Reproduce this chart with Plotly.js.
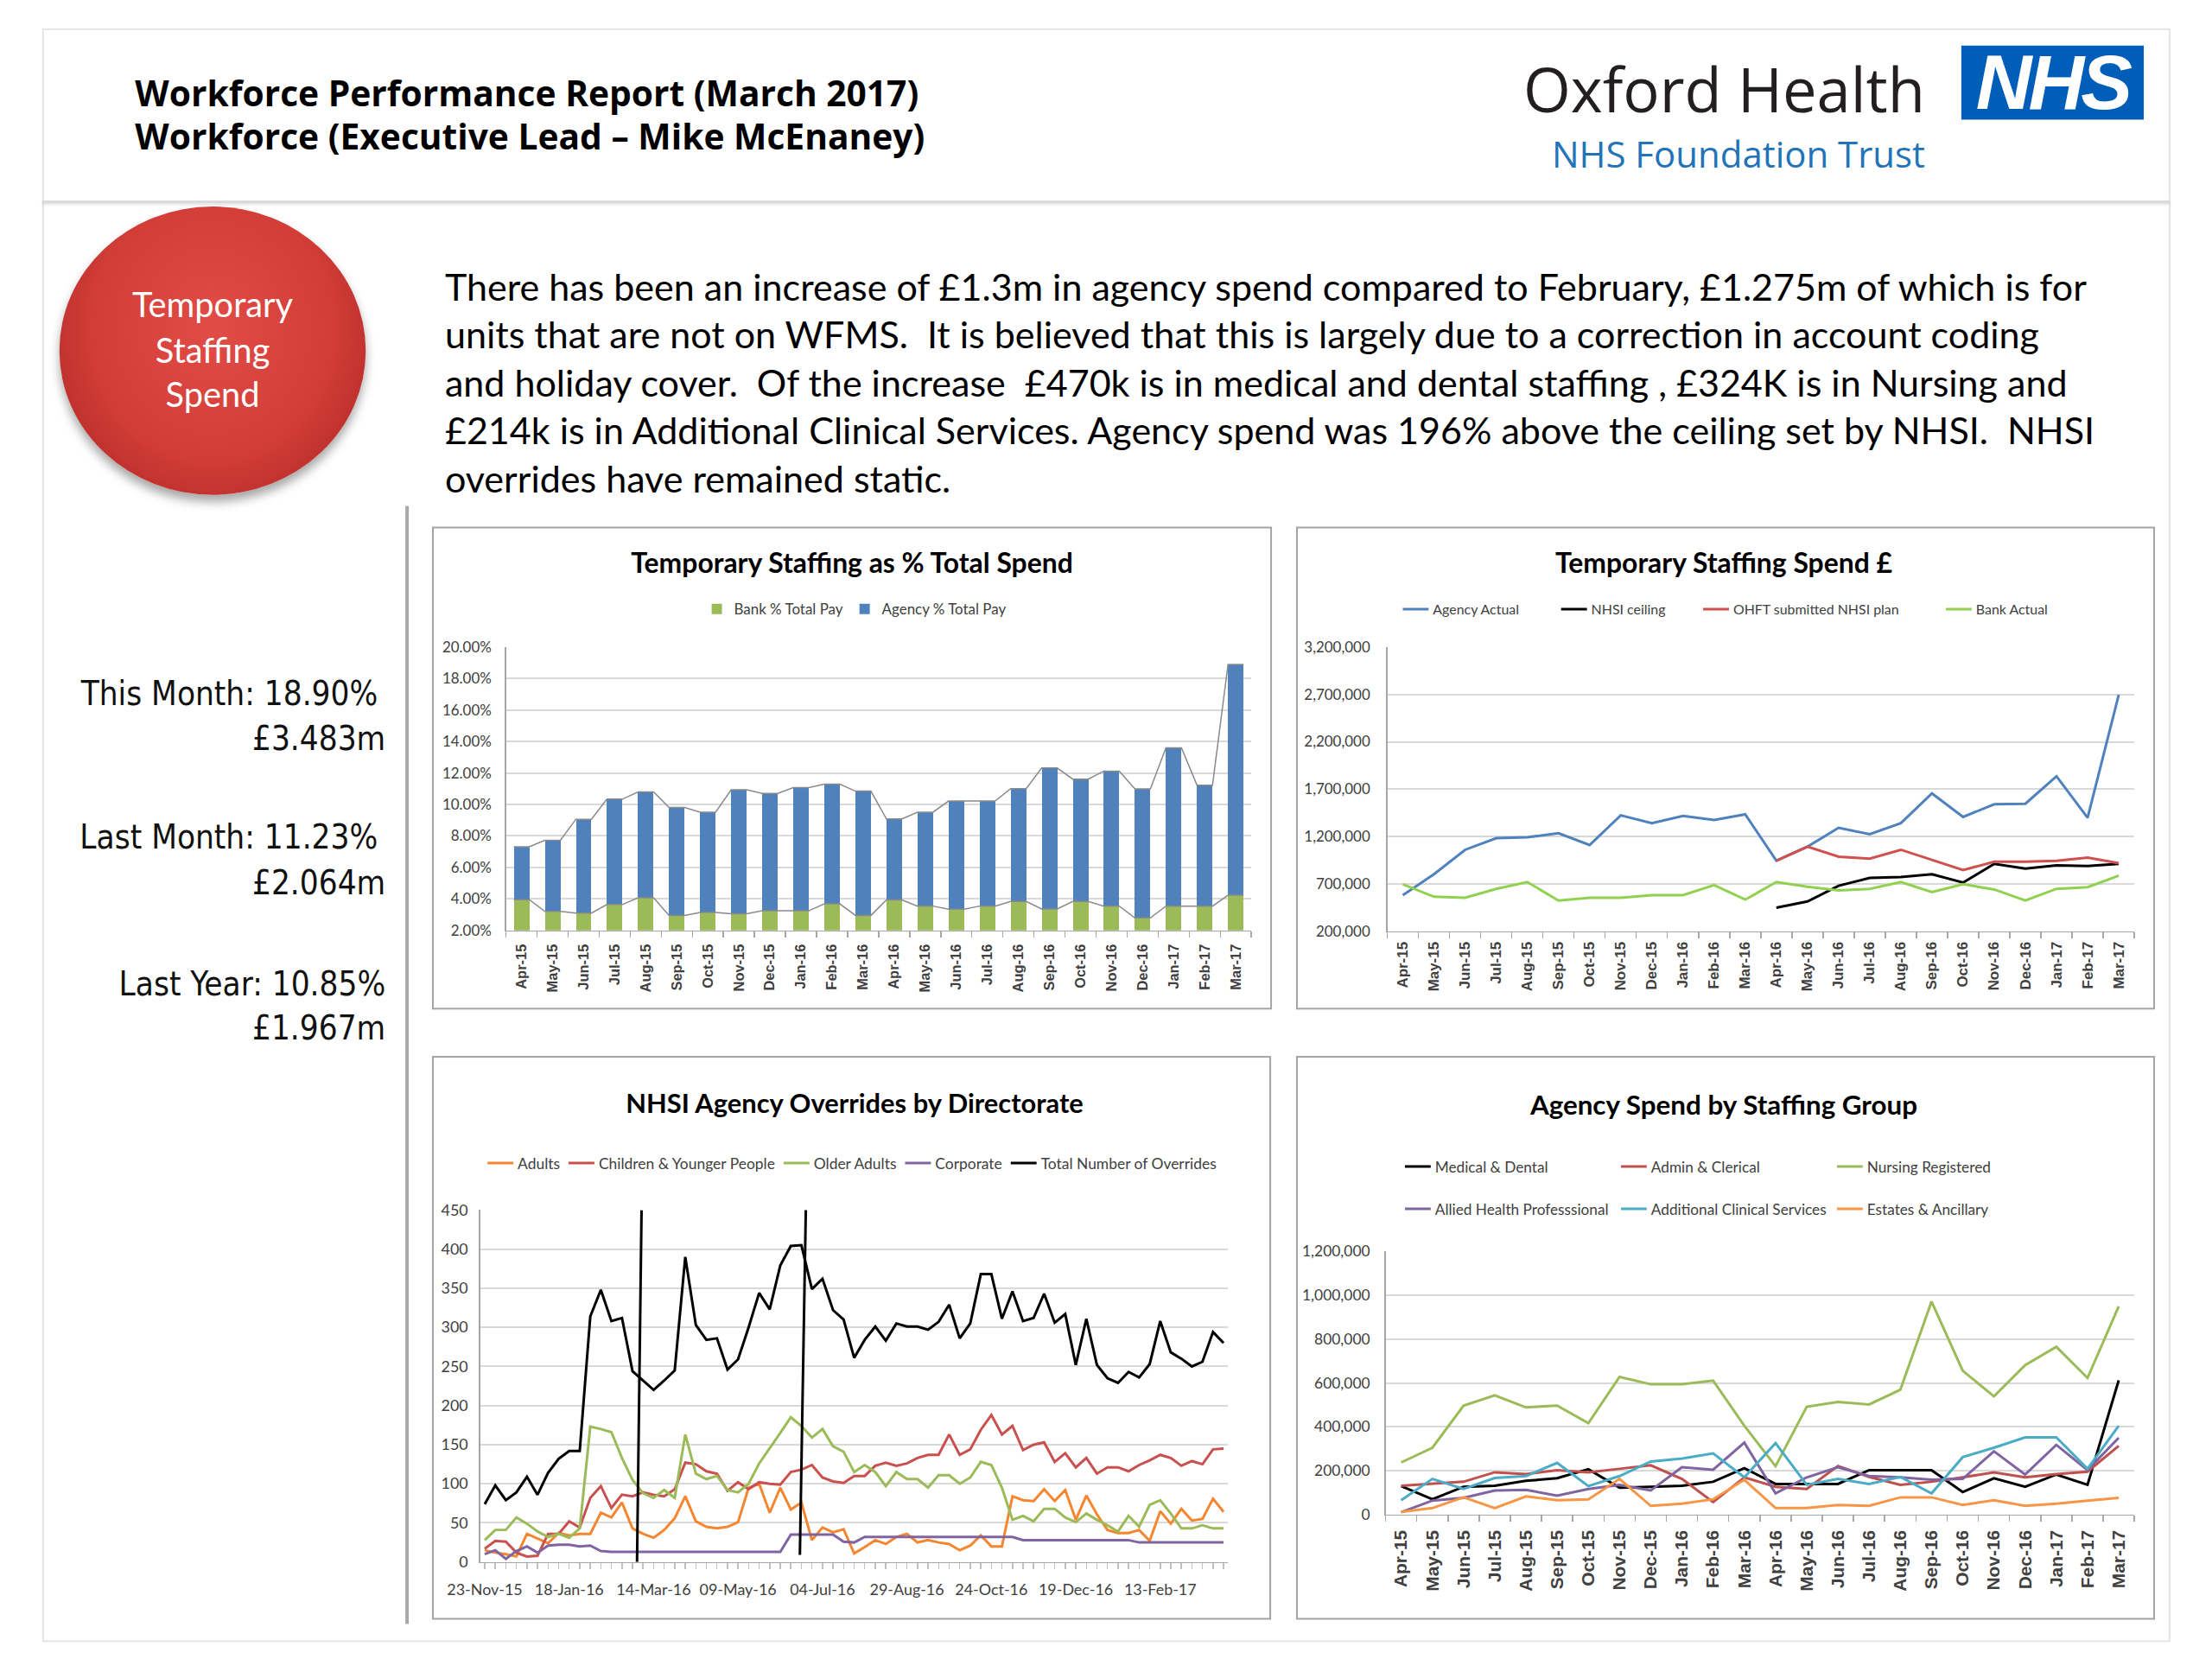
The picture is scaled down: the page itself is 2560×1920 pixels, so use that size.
<!DOCTYPE html>
<html><head><meta charset="utf-8">
<script src="https://cdn.plot.ly/plotly-3.0.1.min.js"></script>
<style>
html,body{margin:0;padding:0;background:#fff;}
#page{position:relative;width:2560px;height:1920px;overflow:hidden;background:#fff;font-family:Lato,"Open Sans",sans-serif;color:#000;transform-origin:0 0;}
.t{position:absolute;white-space:pre;line-height:60px;height:60px;}
.big{line-height:100px;height:100px;}
.frame{position:absolute;left:49px;top:33px;width:2473px;height:1875px;border:2px solid #e4e4e4;box-sizing:border-box;}
.sep{position:absolute;left:49px;top:233px;width:2473px;height:3px;background:#dadada;box-shadow:0 2px 3px rgba(0,0,0,0.12);}
.vline{position:absolute;left:471px;top:588px;width:4px;height:1299px;background:#a9a9a9;}
.chart{position:absolute;}
.box{position:absolute;border:2px solid #a3a3a3;box-sizing:border-box;pointer-events:none;}
.circle{position:absolute;left:69px;top:240px;width:356px;height:335px;border-radius:50%;
 background:radial-gradient(ellipse at 50% 42%, #e24c46 0%, #d23d38 55%, #b52b28 85%, #9c2220 100%);
 box-shadow:0 8px 12px rgba(0,0,0,0.35);}
.nhs{position:absolute;left:2279px;top:53px;width:212px;height:86px;background:#005EB8;}
.nhst{position:absolute;left:2279px;top:53px;width:212px;height:86px;color:#fff;
 font-family:"Liberation Sans",Arial,sans-serif;font-weight:bold;font-style:italic;font-size:90px;line-height:86px;
 text-align:center;letter-spacing:-4px;}
.hdr{font-family:"Open Sans",sans-serif;font-weight:700;font-size:39px;}
.oxf{font-family:"Open Sans",sans-serif;font-weight:400;font-size:70px;color:#231f20;}
.ft{font-family:"Open Sans",sans-serif;font-weight:400;font-size:38px;color:#2273b8;}
.ctext{font-family:Lato,sans-serif;font-size:38px;color:#fff;text-align:center;width:356px;left:69px;}
.para{font-family:Lato,sans-serif;font-size:40px;color:#000;left:517px;}
.stat{font-family:"DejaVu Sans Condensed","DejaVu Sans",sans-serif;font-stretch:condensed;font-size:37px;color:#111;text-align:right;}
</style></head>
<body><div id="page">
<div class="frame"></div>
<div class="sep"></div>

<div class="t hdr" id="h1" style="left:157px;top:77px;">Workforce Performance Report (March 2017)</div>
<div class="t hdr" id="h2" style="left:157px;top:128px;">Workforce (Executive Lead – Mike McEnaney)</div>
<div class="t big oxf" id="oxf" style="left:1770px;top:54px;">Oxford Health</div>
<div class="nhs"></div>
<div class="nhst">NHS</div>
<div class="t ft" id="nft" style="right:323px;top:149px;">NHS Foundation Trust</div>

<div class="circle"></div>
<div class="t ctext" id="c_1" style="top:323px;">Temporary</div>
<div class="t ctext c_o" style="top:377px;">Staffing</div>
<div class="t ctext c_o" style="top:428px;">Spend</div>

<div class="t para" id="p1" style="top:302px;">There has been an increase of £1.3m in agency spend compared to February, £1.275m of which is for</div>
<div class="t para p_o" style="top:358px;">units that are not on WFMS.  It is believed that this is largely due to a correction in account coding</div>
<div class="t para p_o" style="top:414px;">and holiday cover.  Of the increase  £470k is in medical and dental staffing , £324K is in Nursing and</div>
<div class="t para p_o" style="top:469px;">£214k is in Additional Clinical Services. Agency spend was 196% above the ceiling set by NHSI.  NHSI</div>
<div class="t para p_o" style="top:525px;">overrides have remained static.</div>

<div class="vline"></div>
<div class="t stat" id="s1" style="right:2121px;top:776px;">This Month: 18.90%</div>
<div class="t stat s_o" style="right:2112px;top:828px;">£3.483m</div>
<div class="t stat s_o" style="right:2121px;top:943px;">Last Month: 11.23%</div>
<div class="t stat s_o" style="right:2112px;top:996px;">£2.064m</div>
<div class="t stat s_o" style="right:2112px;top:1114px;">Last Year: 10.85%</div>
<div class="t stat s_o" style="right:2112px;top:1165px;">£1.967m</div>

<div class="chart" id="c1" style="left:502px;top:612px;width:976px;height:561px;"></div>
<div class="box" style="left:502px;top:612px;width:976px;height:561px;"></div>
<div class="chart" id="c2" style="left:1506px;top:612px;width:998px;height:561px;"></div>
<div class="box" style="left:1506px;top:612px;width:998px;height:561px;"></div>
<div class="chart" id="c3" style="left:502px;top:1227px;width:975px;height:655px;"></div>
<div class="box" style="left:502px;top:1227px;width:975px;height:655px;"></div>
<div class="chart" id="c4" style="left:1506px;top:1227px;width:998px;height:655px;"></div>
<div class="box" style="left:1506px;top:1227px;width:998px;height:655px;"></div>
</div>

<script>
// ---------- DATA ----------
const months = ['Apr-15','May-15','Jun-15','Jul-15','Aug-15','Sep-15','Oct-15','Nov-15','Dec-15','Jan-16','Feb-16','Mar-16',
                'Apr-16','May-16','Jun-16','Jul-16','Aug-16','Sep-16','Oct-16','Nov-16','Dec-16','Jan-17','Feb-17','Mar-17'];

// Chart 1: Temporary Staffing as % Total Spend (percent)
const bankPctTotalPay   = [3.95,3.20,3.10,3.64,4.07,2.95,3.14,3.05,3.24,3.24,3.68,2.95,3.93,3.54,3.34,3.54,3.83,3.36,3.83,3.54,2.79,3.54,3.54,4.23];
const agencyPctTotalPay = [3.36,4.52,5.96,6.70,6.73,6.86,6.37,7.88,7.46,7.83,7.61,7.90,5.15,5.97,6.88,6.68,7.18,8.96,7.78,8.58,8.20,10.06,7.69,14.67];

// Chart 2: Temporary Staffing Spend £
const agencyActual = [580000,802000,1060000,1182000,1192000,1235000,1110000,1424000,1341000,1417000,1374000,1434000,
                      944000,1093000,1292000,1225000,1341000,1655000,1407000,1540000,1546000,1837000,1399000,2697000];
const nhsiCeiling  = [null,null,null,null,null,null,null,null,null,null,null,null,
                      448000,514000,680000,762000,772000,802000,713000,911000,862000,895000,888000,911000];
const ohftPlan     = [null,null,null,null,null,null,null,null,null,null,null,null,
                      944000,1093000,987000,967000,1060000,954000,845000,934000,934000,944000,977000,918000];
const bankActual   = [696000,564000,554000,647000,719000,524000,554000,554000,580000,580000,686000,533000,
                      719000,670000,630000,647000,719000,613000,696000,640000,524000,647000,665000,786000];

// Chart 3: NHSI Agency Overrides by Directorate (weekly from 23-Nov-15)
const overrideFirstWeek = '2015-11-23';
const adults = [15,12,10,7,36,30,24,37,34,36, 36,63,57,76,43,36,31,41,56,84, 52,45,43,45,51,95,100,63,95,67,
                76,28,44,38,42,11,19,28,23,32, 36,25,28,25,23,15,21,34,20,20, 84,79,78,93,78,92,54,85,61,41,
                37,37,41,27,65,49,68,53,55,81, 64];
const childrenYoungerPeople = [17,27,26,12,7,8,36,36,52,44, 82,97,69,86,84,89,86,84,93,127, 125,116,113,91,102,93,102,100,99,115,
                118,124,108,103,101,110,110,123,127,123, 126,133,137,137,163,137,144,169,188,163, 174,143,150,153,128,139,121,133,113,121,
                121,116,124,130,137,133,123,129,125,144, 145];
const olderAdults = [28,41,41,57,49,39,32,36,31,43, 173,170,166,133,105,88,82,92,82,163, 113,106,110,92,89,100,126,145,165,185,
                174,159,170,148,141,115,124,115,97,115, 106,106,95,111,111,100,108,128,124,95, 54,59,52,68,68,57,51,62,54,47,
                39,59,45,73,79,62,43,43,47,43, 43];
const corporate = [10,15,4,14,20,12,21,22,22,20, 21,14,13,13,13,13,13,13,13,13, 13,13,13,13,13,13,13,13,13,35,
                35,35,35,35,26,25,32,32,32,32, 32,32,32,32,32,32,32,32,32,32, 32,28,28,28,28,28,28,28,28,28,
                28,28,25,25,25,25,25,25,25,25, 25];
const totalOverrides = [74,98,79,89,109,86,114,132,142,142, 314,348,308,312,244,232,220,232,245,390, 303,284,286,246,259,300,344,323,379,404,
                405,349,362,322,310,261,284,301,283,305, 301,301,297,307,329,286,305,368,368,311, 346,308,312,343,306,317,252,311,252,235,
                229,243,236,253,308,268,260,250,256,294, 280];
const overrideMarkerDates = [['2016-03-03','2016-03-06',0,450],['2016-06-19','2016-06-23',9,456]];

// Chart 4: Agency Spend by Staffing Group
const medicalDental      = [130000,70000,127000,132000,154000,166000,207000,123000,127000,132000,150000,212000,
                            140000,140000,140000,203000,203000,203000,103000,166000,127000,183000,136000,612000];
const adminClerical      = [132000,140000,150000,193000,185000,203000,193000,209000,225000,163000,57000,170000,
                            127000,117000,222000,172000,136000,150000,170000,193000,170000,185000,196000,313000];
const nursingRegistered  = [238000,305000,497000,544000,489000,497000,417000,628000,594000,594000,611000,405000,
                            221000,492000,514000,502000,569000,971000,656000,539000,681000,765000,623000,949000];
const alliedHealthProf   = [11000,64000,77000,110000,113000,87000,117000,136000,110000,216000,205000,328000,
                            97000,170000,216000,176000,170000,159000,163000,289000,183000,318000,203000,350000];
const additionalClinical = [66000,163000,117000,167000,176000,236000,130000,176000,242000,256000,279000,170000,
                            326000,136000,163000,140000,172000,97000,262000,305000,352000,352000,209000,405000];
const estatesAncillary   = [13000,30000,79000,30000,83000,66000,70000,163000,40000,50000,70000,159000,
                            30000,30000,44000,40000,79000,79000,44000,66000,40000,50000,64000,77000];

// ---------- TEXT FITTING ----------
function fit(el, w){ const fs=parseFloat(getComputedStyle(el).fontSize); const m=el.getBoundingClientRect().width; const n=fs*w/m; el.style.fontSize=n+'px'; return n; }
(function(){
  let s=fit(document.getElementById('h1'),911); document.getElementById('h2').style.fontSize=s+'px';
  fit(document.getElementById('oxf'),467);
  fit(document.getElementById('nft'),434);
  const el=document.getElementById('c_1'); const sp=document.createElement('span'); sp.textContent='Temporary';
  sp.style.cssText='position:absolute;white-space:pre;font-family:Lato,sans-serif;font-size:38px;visibility:hidden;';
  document.body.appendChild(sp); const fs=38*187/sp.getBoundingClientRect().width; sp.remove();
  el.style.fontSize=fs+'px'; document.querySelectorAll('.c_o').forEach(e=>e.style.fontSize=fs+'px');
  const p=fit(document.getElementById('p1'),1908); document.querySelectorAll('.p_o').forEach(e=>e.style.fontSize=p+'px');
  const q=fit(document.getElementById('s1'),345); document.querySelectorAll('.s_o').forEach(e=>e.style.fontSize=q+'px');
})();

// ---------- CHARTS ----------
const FONT='Lato, "Open Sans", sans-serif';
const XFONT='"Liberation Sans", Arial, sans-serif';
const GRID='#d9d9d9', AXIS='#a6a6a6', TXT='#404040';
const cfg={staticPlot:true, displayModeBar:false};
function ttl(text, x, y, size){ return {text:'<b>'+text+'</b>', font:{family:FONT,size:size,color:'#000'}, xref:'container', yref:'container', x:x, y:y, xanchor:'center', yanchor:'middle'}; }

// Chart 1
(function(){
  const idx = months.map((m,i)=>i);
  const hw = 0.25;
  const totals = bankPctTotalPay.map((b,i)=>b+agencyPctTotalPay[i]);
  function serLine(tops){ const xs=[],ys=[]; tops.forEach((t,i)=>{xs.push(i-hw,i+hw); ys.push(t,t);}); return {x:xs,y:ys}; }
  const sb=serLine(bankPctTotalPay), st=serLine(totals);
  const data=[
    {type:'bar', x:idx, y:bankPctTotalPay, name:'Bank % Total Pay', marker:{color:'#9BBB59'}, width:0.5},
    {type:'bar', x:idx, y:agencyPctTotalPay, name:'Agency % Total Pay', marker:{color:'#4F81BD'}, width:0.5},
    {type:'scatter', mode:'lines', x:sb.x, y:sb.y, line:{color:'#8a8a8a', width:1.5}, showlegend:false, hoverinfo:'skip'},
    {type:'scatter', mode:'lines', x:st.x, y:st.y, line:{color:'#8a8a8a', width:1.5}, showlegend:false, hoverinfo:'skip'}
  ];
  const layout={width:976,height:561,margin:{l:86,r:24,t:140,b:92},barmode:'stack',
    paper_bgcolor:'#fff',plot_bgcolor:'#fff',font:{family:FONT,color:TXT},
    title:ttl('Temporary Staffing as % Total Spend',0.5,0.924,32),
    showlegend:true,
    legend:{orientation:'h',traceorder:'normal',xref:'container',yref:'container',x:0.504,xanchor:'center',y:0.829,yanchor:'middle',font:{family:FONT,size:17,color:TXT}},
    xaxis:{range:[-0.5,23.5],tickmode:'array',tickvals:idx,ticktext:months,tickangle:-90,ticks:'',showgrid:false,zeroline:false,
      showline:true,linecolor:AXIS,linewidth:1.5,ticklabelstandoff:8,
      minor:{tick0:-0.5,dtick:1,ticks:'outside',ticklen:7,tickcolor:AXIS,tickwidth:1.5,showgrid:false},
      tickfont:{family:XFONT,size:16.5,color:TXT,weight:'bold'}},
    yaxis:{range:[2,20],tick0:2,dtick:2,tickformat:'.2f',ticksuffix:'%',showgrid:true,gridcolor:GRID,gridwidth:2,zeroline:false,
      showline:true,linecolor:AXIS,linewidth:1.5,ticks:'',ticklabelstandoff:12,tickfont:{family:FONT,size:17,color:TXT}}
  };
  Plotly.newPlot('c1',data,layout,cfg);
})();

// Chart 2
(function(){
  const data=[
    {type:'scatter',mode:'lines',x:months,y:agencyActual,name:'Agency Actual',line:{color:'#4F81BD',width:3},legendwidth:139},
    {type:'scatter',mode:'lines',x:months,y:nhsiCeiling,name:'NHSI ceiling',line:{color:'#000000',width:3},legendwidth:120},
    {type:'scatter',mode:'lines',x:months,y:ohftPlan,name:'OHFT submitted NHSI plan',line:{color:'#D0504D',width:3},legendwidth:237},
    {type:'scatter',mode:'lines',x:months,y:bankActual,name:'Bank Actual',line:{color:'#92D050',width:3}}
  ];
  const layout={width:998,height:561,margin:{l:106,r:24,t:140,b:91},
    paper_bgcolor:'#fff',plot_bgcolor:'#fff',font:{family:FONT,color:TXT},
    title:ttl('Temporary Staffing Spend £',0.498,0.924,32),
    showlegend:true,
    legend:{orientation:'h',xref:'container',yref:'container',x:0.5,xanchor:'center',y:0.829,yanchor:'middle',font:{family:FONT,size:16,color:TXT}},
    xaxis:{type:'category',range:[-0.5,23.5],tickson:'boundaries',ticks:'outside',ticklen:7,tickcolor:AXIS,tickwidth:1.5,tickangle:-90,
      showgrid:false,zeroline:false,showline:true,linecolor:AXIS,linewidth:1.5,ticklabelstandoff:4,
      tickfont:{family:XFONT,size:17,color:TXT,weight:'bold'}},
    yaxis:{range:[200000,3200000],tick0:200000,dtick:500000,tickformat:',d',showgrid:true,gridcolor:GRID,gridwidth:2,zeroline:false,
      showline:true,linecolor:AXIS,linewidth:1.5,ticks:'',ticklabelstandoff:15,tickfont:{family:FONT,size:17,color:TXT}}
  };
  Plotly.newPlot('c2',data,layout,cfg);
})();

// Chart 3
(function(){
  const t0=Date.parse(overrideFirstWeek+'T00:00:00Z');
  const weeks=totalOverrides.map((v,k)=>new Date(t0+k*7*864e5).toISOString().slice(0,10));
  const data=[
    {type:'scatter',mode:'lines',x:weeks,y:adults,name:'Adults',line:{color:'#F5862F',width:3}},
    {type:'scatter',mode:'lines',x:weeks,y:childrenYoungerPeople,name:'Children & Younger People',line:{color:'#C9504E',width:3}},
    {type:'scatter',mode:'lines',x:weeks,y:olderAdults,name:'Older Adults',line:{color:'#9BBB59',width:3}},
    {type:'scatter',mode:'lines',x:weeks,y:corporate,name:'Corporate',line:{color:'#8064A2',width:3}},
    {type:'scatter',mode:'lines',x:weeks,y:totalOverrides,name:'Total Number of Overrides',line:{color:'#000000',width:3}}
  ];
  const shapes=overrideMarkerDates.map(m=>({type:'line',xref:'x',yref:'y',x0:m[0],x1:m[1],y0:m[2],y1:m[3],line:{color:'#000',width:3}}));
  const layout={width:975,height:655,margin:{l:56,r:50,t:179,b:67},
    paper_bgcolor:'#fff',plot_bgcolor:'#fff',font:{family:FONT,color:TXT},
    title:ttl('NHSI Agency Overrides by Directorate',0.5036,0.915,31),
    showlegend:true,shapes:shapes,
    legend:{orientation:'h',xref:'container',yref:'container',x:0.5005,xanchor:'center',y:0.81,yanchor:'middle',font:{family:FONT,size:17.5,color:TXT}},
    xaxis:{type:'date',range:['2015-11-20','2017-03-30'],tick0:overrideFirstWeek,dtick:8*7*864e5,tickformat:'%d-%b-%y',
      ticks:'outside',ticklen:7,tickcolor:'#bfbfbf',tickwidth:1.5,showgrid:false,zeroline:false,showline:true,linecolor:AXIS,linewidth:1.5,
      ticklabelstandoff:8,minor:{tick0:overrideFirstWeek,dtick:7*864e5,ticks:'outside',ticklen:7,tickcolor:'#bfbfbf',tickwidth:1.5,showgrid:false},
      tickfont:{family:FONT,size:18,color:TXT}},
    yaxis:{range:[0,450],dtick:50,showgrid:true,gridcolor:GRID,gridwidth:2,zeroline:false,showline:true,linecolor:AXIS,linewidth:1.5,
      ticks:'',ticklabelstandoff:9,tickfont:{family:FONT,size:18,color:TXT}}
  };
  Plotly.newPlot('c3',data,layout,cfg);
})();

// Chart 4
(function(){
  const data=[
    {type:'scatter',mode:'lines',x:months,y:medicalDental,name:'Medical & Dental',line:{color:'#000000',width:3}},
    {type:'scatter',mode:'lines',x:months,y:adminClerical,name:'Admin & Clerical',line:{color:'#C0504D',width:3}},
    {type:'scatter',mode:'lines',x:months,y:nursingRegistered,name:'Nursing Registered',line:{color:'#9BBB59',width:3}},
    {type:'scatter',mode:'lines',x:months,y:alliedHealthProf,name:'Allied Health Professsional',line:{color:'#8064A2',width:3},legend:'legend2'},
    {type:'scatter',mode:'lines',x:months,y:additionalClinical,name:'Additional Clinical Services',line:{color:'#4BACC6',width:3},legend:'legend2'},
    {type:'scatter',mode:'lines',x:months,y:estatesAncillary,name:'Estates & Ancillary',line:{color:'#F79646',width:3},legend:'legend2'}
  ];
  const lg=(y)=>({orientation:'h',xref:'container',yref:'container',x:0.1217,xanchor:'left',y:y,yanchor:'middle',
      entrywidth:206,entrywidthmode:'pixels',font:{family:FONT,size:17.3,color:TXT}});
  const layout={width:998,height:655,margin:{l:104,r:24,t:227,b:122},
    paper_bgcolor:'#fff',plot_bgcolor:'#fff',font:{family:FONT,color:TXT},
    title:ttl('Agency Spend by Staffing Group',0.498,0.913,31.5),
    showlegend:true, legend:lg(0.8037), legend2:lg(0.7285),
    xaxis:{type:'category',range:[-0.5,23.5],tickson:'boundaries',ticks:'outside',ticklen:7,tickcolor:AXIS,tickwidth:1.5,tickangle:-90,
      showgrid:false,zeroline:false,showline:true,linecolor:AXIS,linewidth:1.5,ticklabelstandoff:8,
      tickfont:{family:XFONT,size:21,color:TXT,weight:'bold'}},
    yaxis:{range:[0,1200000],dtick:200000,tickformat:',d',showgrid:true,gridcolor:GRID,gridwidth:2,zeroline:false,
      showline:true,linecolor:AXIS,linewidth:1.5,ticks:'',ticklabelstandoff:13,tickfont:{family:FONT,size:17.5,color:TXT}}
  };
  Plotly.newPlot('c4',data,layout,cfg);
})();

// slight global scale to match the reference frame
document.getElementById('page').style.transform='scale(0.996)';
</script>
</body></html>
